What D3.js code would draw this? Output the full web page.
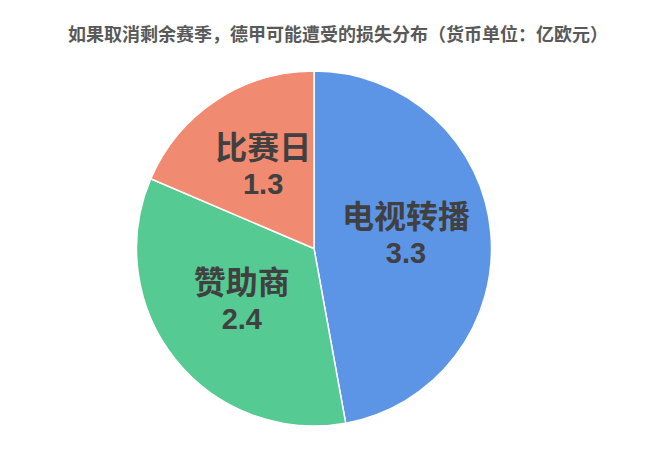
<!DOCTYPE html>
<html>
<head>
<meta charset="utf-8">
<script src="https://cdn.jsdelivr.net/npm/d3@7"></script>
<style>
  body { margin: 0; background: #fff; }
</style>
</head>
<body>
<div id="chart"></div>
<script>
// chart data
const categories = ["电视转播", "赞助商", "比赛日"];
const values = [3.3, 2.4, 1.3];
const colors = ["#5C95E6", "#55CA92", "#F08A70"];
const title = "如果取消剩余赛季，德甲可能遭受的损失分布（货币单位：亿欧元）";

const width = 650, height = 461;
const cx = 314, cy = 248.5, radius = 177.5;

const svg = d3.select("#chart")
    .append("svg")
    .attr("width", width)
    .attr("height", height);

// title
svg.append("text")
    .attr("x", 338)
    .attr("y", 41)
    .attr("text-anchor", "middle")
    .attr("font-family", "'Noto Sans CJK SC', sans-serif")
    .attr("font-weight", "bold")
    .attr("font-size", "18px")
    .attr("fill", "#595959")
    .text(title);

const data = categories.map((c, i) => ({ name: c, value: values[i], color: colors[i] }));

const pie = d3.pie()
    .sort(null)
    .value(d => d.value);

const arc = d3.arc()
    .innerRadius(0)
    .outerRadius(radius);

const labelArc = d3.arc()
    .innerRadius(radius * 0.52)
    .outerRadius(radius * 0.52);

const g = svg.append("g")
    .attr("transform", "translate(" + cx + "," + cy + ")");

const arcs = pie(data);

// slices
g.selectAll("path")
    .data(arcs)
    .enter()
    .append("path")
    .attr("d", arc)
    .attr("fill", d => d.data.color)
    .attr("stroke", "#fff")
    .attr("stroke-width", 1.5);

// labels
const labels = g.selectAll(".label")
    .data(arcs)
    .enter()
    .append("text")
    .attr("class", "label")
    .attr("transform", d => "translate(" + labelArc.centroid(d) + ")")
    .attr("text-anchor", "middle")
    .attr("font-weight", "bold")
    .attr("fill", "#404040");

labels.append("tspan")
    .attr("x", 0)
    .attr("y", -12)
    .attr("font-family", "'Noto Sans CJK SC', sans-serif")
    .attr("font-size", "32px")
    .text(d => d.data.name);

labels.append("tspan")
    .attr("x", 0)
    .attr("y", 23)
    .attr("font-family", "Arial, 'Liberation Sans', sans-serif")
    .attr("font-size", "29px")
    .text(d => d.data.value);
</script>
</body>
</html>
